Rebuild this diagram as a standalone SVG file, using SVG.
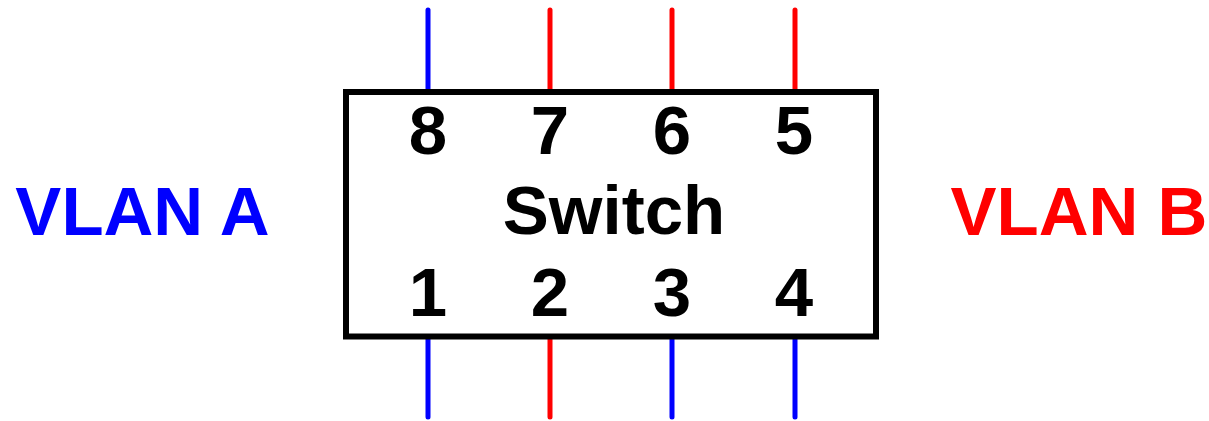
<svg xmlns="http://www.w3.org/2000/svg" width="1209" height="421" viewBox="0 0 1209 421">
<style>
.t{font-family:"Liberation Sans",Arial,sans-serif;font-weight:bold;font-size:69px;text-anchor:middle}
.w{stroke-width:5;stroke-linecap:round;fill:none}
.b{stroke:#0000ff}
.r{stroke:#ff0000}
</style>
<rect width="1209" height="421" fill="#ffffff"/>
<g id="connectors">
<line class="w b" x1="428" y1="10" x2="428" y2="92"/>
<line class="w r" x1="550" y1="10" x2="550" y2="92"/>
<line class="w r" x1="672" y1="10" x2="672" y2="92"/>
<line class="w r" x1="795" y1="10" x2="795" y2="92"/>
<line class="w b" x1="428" y1="337" x2="428" y2="417"/>
<line class="w r" x1="550" y1="337" x2="550" y2="417"/>
<line class="w b" x1="672" y1="337" x2="672" y2="417"/>
<line class="w b" x1="795" y1="337" x2="795" y2="417"/>
</g>
<g id="switch">
<rect x="346" y="92" width="530" height="244.5" fill="none" stroke="#000000" stroke-width="6"/>
<text class="t" x="428" y="154">8</text>
<text class="t" x="550" y="154">7</text>
<text class="t" x="672" y="154">6</text>
<text class="t" x="794" y="154">5</text>
<text class="t" x="614" y="234">Switch</text>
<text class="t" x="428" y="316">1</text>
<text class="t" x="550" y="316">2</text>
<text class="t" x="672" y="316">3</text>
<text class="t" x="794" y="316">4</text>
</g>
<g id="vlan-a">
<text class="t" x="142.5" y="235" fill="#0000ff">VLAN A</text>
</g>
<g id="vlan-b">
<text class="t" x="1079" y="235" fill="#ff0000">VLAN B</text>
</g>
</svg>
